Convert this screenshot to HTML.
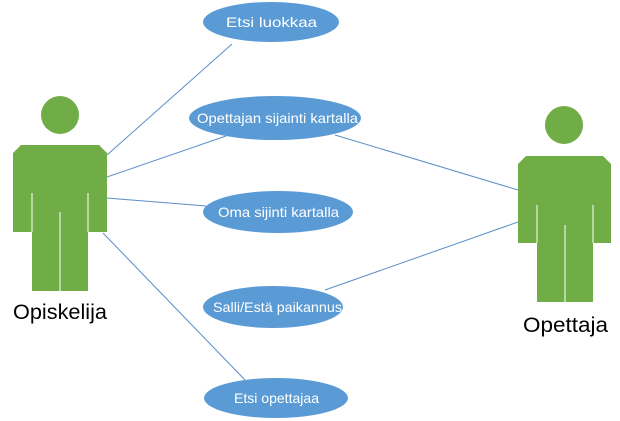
<!DOCTYPE html>
<html><head><meta charset="utf-8"><style>
html,body{margin:0;padding:0;background:#fff;width:620px;height:421px;overflow:hidden}
svg{display:block}
text{font-family:"Liberation Sans","DejaVu Sans",sans-serif}
</style></head><body>
<svg width="620" height="421" viewBox="0 0 620 421" xmlns="http://www.w3.org/2000/svg">
<g stroke="#5b8fc7" stroke-width="1" fill="none">
<line x1="107" y1="155" x2="232" y2="44"/>
<line x1="107" y1="177" x2="226" y2="136"/>
<line x1="107" y1="198" x2="206" y2="206"/>
<line x1="103" y1="233" x2="245" y2="380"/>
<line x1="335" y1="135" x2="518" y2="190"/>
<line x1="325" y1="290" x2="518" y2="222"/>
</g>
<g fill="#70ad47">
<circle cx="60" cy="115" r="19"/>
<path d="M21 145 H99 L107 153 V232 H88 V291 H32 V232 H13 V153 Z"/>
<circle cx="564" cy="125" r="19"/>
<path d="M526 156 H603 L611 164 V243 H593 V302 H537 V243 H518 V164 Z"/>
</g>
<g stroke="#fff" stroke-width="1">
<line x1="32" y1="193" x2="32" y2="232"/><line x1="88" y1="193" x2="88" y2="232"/>
<line x1="60" y1="212" x2="60" y2="291"/>
<line x1="537" y1="205" x2="537" y2="243"/><line x1="593" y1="205" x2="593" y2="243"/>
<line x1="565" y1="225" x2="565" y2="302"/>
</g>
<g fill="#5b9bd5">
<ellipse cx="271" cy="22" rx="68" ry="20"/>
<ellipse cx="275" cy="118" rx="86" ry="22"/>
<ellipse cx="278" cy="212" rx="75" ry="21"/>
<ellipse cx="273" cy="307" rx="70" ry="21"/>
<ellipse cx="276" cy="398" rx="72" ry="20"/>
</g>
<g fill="#fff" font-size="14">
<text x="226" y="27" textLength="91" lengthAdjust="spacingAndGlyphs">Etsi luokkaa</text>
<text x="197" y="123" textLength="161" lengthAdjust="spacingAndGlyphs">Opettajan sijainti kartalla</text>
<text x="218" y="217" textLength="121" lengthAdjust="spacingAndGlyphs">Oma sijinti kartalla</text>
<text x="213" y="312" textLength="129" lengthAdjust="spacingAndGlyphs">Salli/Estä paikannus</text>
<text x="234" y="403" textLength="85" lengthAdjust="spacingAndGlyphs">Etsi opettajaa</text>
</g>
<g fill="#000" font-size="21">
<text x="13" y="319" textLength="94" lengthAdjust="spacingAndGlyphs">Opiskelija</text>
<text x="523" y="332" textLength="85" lengthAdjust="spacingAndGlyphs">Opettaja</text>
</g>
</svg>
</body></html>
